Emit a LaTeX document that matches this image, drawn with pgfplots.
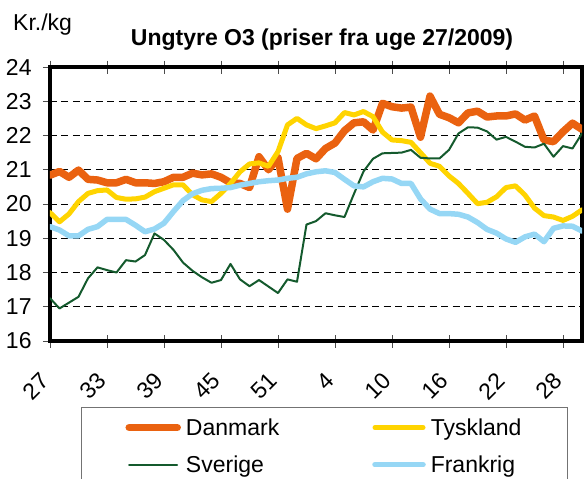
\documentclass[border=0pt]{standalone}
\usepackage{fontspec}
\setmainfont{Liberation Sans}
\usepackage{pgfplots}
\pgfplotsset{compat=1.18}
\definecolor{DKorange}{RGB}{234,98,16}
\definecolor{DEyellow}{RGB}{255,212,0}
\definecolor{SEgreen}{RGB}{20,90,45}
\definecolor{FRblue}{RGB}{150,215,245}
\newcommand\ff{\fontsize{23bp}{27.6bp}\selectfont}

% uge-index 0 = uge 27/2009, 30 = uge 4/2010
\pgfplotstableread{
i dk de se fr
0 20.84 19.75 17.25 19.34
1 20.95 19.48 16.95 19.24
2 20.78 19.71 17.12 19.07
3 20.99 20.07 17.29 19.07
4 20.72 20.31 17.83 19.26
5 20.70 20.39 18.15 19.34
6 20.62 20.41 18.07 19.55
7 20.62 20.19 18.00 19.55
8 20.72 20.14 18.36 19.55
9 20.62 20.15 18.32 19.38
10 20.62 20.20 18.51 19.19
11 20.60 20.36 19.14 19.27
12 20.65 20.46 18.95 19.44
13 20.78 20.56 18.66 19.78
14 20.78 20.56 18.29 20.10
15 20.90 20.27 18.05 20.30
16 20.85 20.12 17.86 20.40
17 20.88 20.07 17.70 20.45
18 20.78 20.31 17.78 20.46
19 20.62 20.60 18.25 20.48
20 20.60 20.94 17.80 20.55
21 20.48 21.17 17.60 20.60
22 21.38 21.20 17.78 20.65
23 21.00 21.10 17.59 20.68
24 21.35 21.53 17.40 20.70
25 19.85 22.31 17.80 20.75
26 21.33 22.50 17.73 20.78
27 21.48 22.31 19.40 20.88
28 21.32 22.20 19.50 20.94
29 21.62 22.28 19.73 20.97
30 21.78 22.37 19.67 20.92
31 22.14 22.67 19.62 20.72
32 22.37 22.60 20.30 20.53
33 22.40 22.70 20.95 20.50
34 22.16 22.55 21.32 20.65
35 22.94 22.10 21.48 20.75
36 22.84 21.87 21.49 20.73
37 22.80 21.85 21.50 20.60
38 22.83 21.80 21.58 20.60
39 21.95 21.50 21.35 20.15
40 23.15 21.19 21.33 19.85
41 22.62 21.10 21.33 19.72
42 22.52 20.82 21.58 19.72
43 22.37 20.60 22.06 19.70
44 22.66 20.31 22.24 19.62
45 22.71 20.01 22.23 19.46
46 22.54 20.05 22.12 19.26
47 22.57 20.21 21.88 19.15
48 22.57 20.48 21.96 18.98
49 22.63 20.53 21.82 18.88
50 22.45 20.26 21.67 19.04
51 22.57 19.88 21.65 19.12
52 21.87 19.66 21.76 18.90
53 21.82 19.62 21.38 19.29
54 22.11 19.52 21.69 19.36
55 22.36 19.64 21.62 19.35
56 22.18 19.83 22.06 19.21
}\prices

\begin{document}
\begin{tikzpicture}
\useasboundingbox (-50bp,-138bp) rectangle (534bp,341bp);
\begin{axis}[
  at={(0,0)}, anchor=south west,
  scale only axis, width=532bp, height=274bp,
  xmin=0, xmax=56, ymin=16, ymax=24,
  xtick={0,6,...,54},
  xticklabels={27,33,39,45,51,4,10,16,22,28},
  ytick={16,17,...,24},
  ymajorgrids,
  grid style={black, line width=0.8bp, dash pattern=on 7bp off 4.5bp},
  axis line style={line width=3.6bp},
  xtick align=center, ytick align=outside,
  xtick style={black!70, line width=0.8bp, /pgfplots/major tick length=13bp},
  ytick style={black!70, line width=0.8bp, /pgfplots/major tick length=7bp},
  tick label style={font=\ff},
  /pgf/number format/assume math mode=true,
  xticklabel style={inner sep=0pt, xshift=-4.6bp, yshift=-34bp, rotate=45, anchor=east},
  yticklabel style={inner sep=0pt, xshift=-14bp},
  every axis plot/.append style={line join=round, line cap=round},
  legend columns=2,
  legend cell align=left,
  legend image code/.code={\draw[#1] (0bp,0bp) -- (48bp,0bp);},
  legend style={at={(0.0583,-0.2409)}, anchor=north west, font=\ff,
    draw=black!55, line width=0.9bp, inner xsep=44bp, inner ysep=9bp,
    nodes={inner sep=2bp}, row sep=15bp,
    /tikz/every odd column/.append style={column sep=3bp},
    /tikz/every even column/.append style={column sep=91bp}},
]
\addplot[DKorange, line width=7.5bp] table[x=i, y=dk] {\prices};
\addlegendentry{Danmark}
\addplot[DEyellow, line width=5bp] table[x=i, y=de] {\prices};
\addlegendentry{Tyskland}
\addplot[SEgreen, line width=2bp] table[x=i, y=se] {\prices};
\addlegendentry{Sverige}
\addplot[FRblue, line width=5.5bp] table[x=i, y=fr] {\prices};
\addlegendentry{Frankrig}
\end{axis}
\node[anchor=base, font=\ff\bfseries, inner sep=0pt] at (272bp,295.5bp) {Ungtyre O3 (priser fra uge 27/2009)};
\node[anchor=base west, font=\ff, inner sep=0pt] at (-37bp,310.5bp) {Kr./kg};
\end{tikzpicture}
\end{document}
